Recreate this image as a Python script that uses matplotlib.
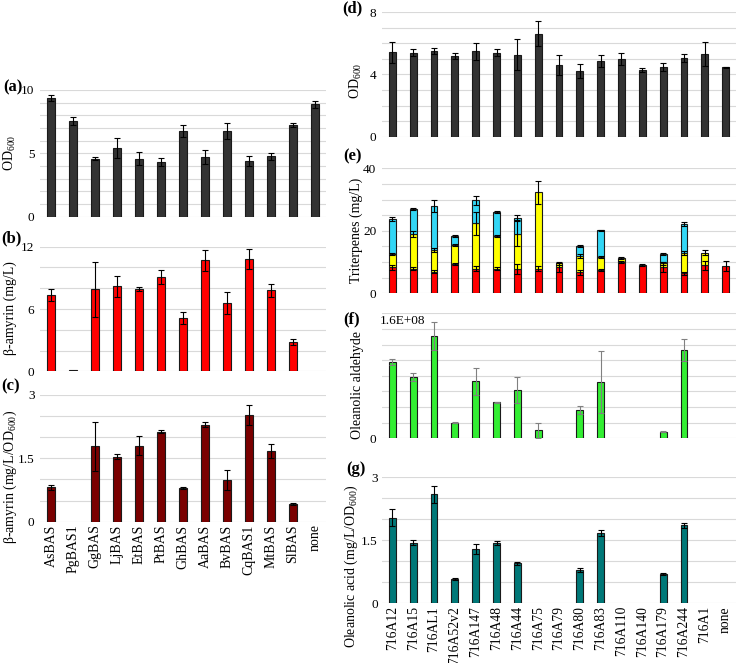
import numpy as np
import matplotlib
matplotlib.use("Agg")
import matplotlib.pyplot as plt
from matplotlib.ticker import MultipleLocator, FixedLocator, NullFormatter

plt.rcParams['font.family'] = ['Liberation Serif', 'DejaVu Serif']
plt.rcParams['mathtext.fontset'] = 'custom'
plt.rcParams['mathtext.rm'] = 'Liberation Serif'
plt.rcParams['mathtext.default'] = 'regular'

# ---------------- data ----------------
left_cats = ["AsBAS", "PgBAS1", "GgBAS", "LjBAS", "EtBAS", "PtBAS", "GhBAS",
             "AaBAS", "BvBAS", "CqBAS1", "MtBAS", "SlBAS", "none"]
od_a = [9.34, 7.53, 4.57, 5.40, 4.57, 4.32, 6.76, 4.73, 6.79, 4.38, 4.78, 7.24, 8.87]
od_a_err = [0.24, 0.31, 0.13, 0.78, 0.50, 0.30, 0.45, 0.54, 0.63, 0.40, 0.27, 0.18, 0.26]
bamy = [7.35, 0.10, 7.90, 8.18, 7.92, 9.05, 5.17, 10.70, 6.60, 10.78, 7.80, 2.79, 0]
bamy_err = [0.60, 0.0, 2.65, 1.00, 0.20, 0.67, 0.57, 1.00, 1.06, 0.96, 0.60, 0.29, 0]
bamy_od = [0.81, 0.0, 1.78, 1.54, 1.80, 2.13, 0.80, 2.30, 0.99, 2.53, 1.67, 0.42, 0]
bamy_od_err = [0.05, 0.0, 0.58, 0.06, 0.22, 0.03, 0.03, 0.07, 0.24, 0.23, 0.17, 0.02, 0]

right_cats = ["716A12", "716A15", "716AL1", "716A52v2", "716A147", "716A48", "716A44",
              "716A75", "716A79", "716A80", "716A83", "716A110", "716A140", "716A179",
              "716A244", "716A1", "none"]
od_d = [5.43, 5.41, 5.52, 5.21, 5.49, 5.41, 5.28, 6.61, 4.59, 4.23, 4.87, 4.98, 4.29,
        4.46, 5.04, 5.32, 4.48]
od_d_err = [0.69, 0.23, 0.17, 0.20, 0.56, 0.21, 0.99, 0.80, 0.64, 0.45, 0.36, 0.39, 0.10,
            0.26, 0.26, 0.75, 0.03]
tri_red = [8.3, 7.8, 6.9, 9.4, 7.8, 7.8, 7.8, 7.8, 8.3, 6.8, 7.5, 9.9, 9.0, 8.5, 6.4, 8.9, 8.7]
tri_red_err = [0.8, 0.5, 0.5, 0.3, 0.8, 0.5, 1.5, 0.8, 1.5, 0.8, 0.3, 0.3, 0.3, 1.6, 0.5, 1.3, 1.6]
tri_yellow = [4.3, 11.2, 7.0, 6.0, 14.6, 10.5, 11.2, 24.5, 1.3, 5.1, 4.0, 1.5, 0, 1.1, 6.4, 4.1, 0]
tri_yellow_err = [0.4, 1.0, 0.6, 0.3, 3.6, 0.3, 4.0, 3.7, 0.5, 0.6, 0.3, 0.3, 0, 0.5, 0.6, 0.8, 0]
tri_cyan = [11.2, 8.1, 14.0, 2.9, 7.3, 7.7, 5.2, 0, 0, 3.2, 8.6, 0, 0, 3.0, 9.4, 0, 0]
tri_cyan_err = [0.6, 0.3, 1.8, 0.2, 1.3, 0.2, 0.9, 0, 0, 0.3, 0.3, 0, 0, 0.4, 0.7, 0, 0]
ald = [9.8e7, 7.8e7, 1.31e8, 2.0e7, 7.3e7, 4.6e7, 6.2e7, 1.0e7, 0, 3.6e7, 7.2e7, 0, 0,
       8.5e6, 1.13e8, 0, 0]
ald_err = [4e6, 5e6, 1.8e7, 5e5, 1.7e7, 1e6, 1.7e7, 9e6, 0, 5e6, 4e7, 0, 0, 1e6, 1.4e7, 0, 0]
acid = [2.04, 1.44, 2.60, 0.58, 1.30, 1.44, 0.95, 0, 0, 0.79, 1.68, 0, 0, 0.70, 1.86, 0, 0]
acid_err = [0.20, 0.06, 0.20, 0.02, 0.12, 0.04, 0.03, 0, 0, 0.04, 0.07, 0, 0, 0.02, 0.06, 0, 0]

# ---------------- layout ----------------
W, H = 740, 663
fig = plt.figure(figsize=(W / 100, H / 100), dpi=100)


def add_ax(x0, x1, ytop, ybot):
    return fig.add_axes([x0 / W, 1 - ybot / H, (x1 - x0) / W, (ybot - ytop) / H])


GRID = "#d9d9d9"
BW = 0.33
TICK_FS = 9.5


def style(ax, n, ymax, major, major_lbl, minor, labels=None, fs=9.5, ypad=4):
    ax.set_xlim(-0.5, n - 0.5)
    ax.set_ylim(0, ymax)
    for s in ax.spines.values():
        s.set_visible(False)
    ax.yaxis.set_major_locator(FixedLocator(major))
    ax.set_yticklabels(major_lbl)
    ax.yaxis.set_minor_locator(MultipleLocator(minor))
    ax.yaxis.set_minor_formatter(NullFormatter())
    ax.grid(True, axis="y", which="both", color=GRID, linewidth=0.8)
    ax.set_axisbelow(True)
    ax.tick_params(axis="both", which="both", length=0, labelsize=TICK_FS, pad=ypad)
    if labels is None:
        ax.set_xticks([])
    else:
        ax.set_xticks(np.arange(n))
        ax.set_xticklabels(labels, rotation=90, fontsize=fs)
        ax.tick_params(axis="x", pad=2)


def bars(ax, vals, errs, color, bottom=None, ecolor="black"):
    x = np.arange(len(vals))
    vals = np.asarray(vals, float)
    errs = np.asarray(errs, float)
    b = np.zeros_like(vals) if bottom is None else np.asarray(bottom, float)
    mask = vals > 0
    ax.bar(x[mask], vals[mask], BW, bottom=b[mask], color=color,
           edgecolor="#1a1a1a", linewidth=0.8, zorder=2)
    em = mask & (errs > 0)
    ax.errorbar(x[em], (b + vals)[em], yerr=errs[em], fmt="none", ecolor=ecolor,
                elinewidth=0.8, capsize=2, capthick=0.8, zorder=3)


LX0, LX1 = 40, 326
RX0, RX1 = 382, 736

# (a)
ax = add_ax(LX0, LX1, 90, 216.7)
bars(ax, od_a, od_a_err, "#333333")
style(ax, len(left_cats), 10, [0, 5, 10], ["0", "5", "10"], 1)
# (b)
ax = add_ax(LX0, LX1, 246.7, 371.3)
bars(ax, bamy, bamy_err, "#ff0000")
style(ax, len(left_cats), 12, [0, 6, 12], ["0", "6", "12"], 2)
# (c)
ax = add_ax(LX0, LX1, 395, 521.6)
bars(ax, bamy_od, bamy_od_err, "#7a0000")
style(ax, len(left_cats), 3, [0, 1.5, 3], ["0", "1.5", "3"], 0.5, labels=left_cats, fs=10)
# (d)
ax = add_ax(RX0, RX1, 12.3, 136.7)
bars(ax, od_d, od_d_err, "#333333")
style(ax, len(right_cats), 8, [0, 4, 8], ["0", "4", "8"], 1)
# (e)
ax = add_ax(RX0, RX1, 168.3, 293.3)
r = np.asarray(tri_red)
y = np.asarray(tri_yellow)
bars(ax, tri_red, tri_red_err, "#ff0000")
bars(ax, tri_yellow, tri_yellow_err, "#ffff00", bottom=r)
bars(ax, tri_cyan, tri_cyan_err, "#33d6f5", bottom=r + y)
style(ax, len(right_cats), 40, [0, 20, 40], ["0", "20", "40"], 5)
# (f)
ax = add_ax(RX0, RX1, 313.3, 438.3)
bars(ax, ald, ald_err, "#33ee33", ecolor="#808080")
style(ax, len(right_cats), 1.6e8, [0], ["0"], 2e7)
# (g)
ax = add_ax(RX0, RX1, 477.3, 603.3)
bars(ax, acid, acid_err, "#007878")
style(ax, len(right_cats), 3, [0, 1.5, 3], ["0", "1.5", "3"], 0.5, labels=right_cats,
      fs=9.8, ypad=3)

fig.text(380 / W, 1 - 321 / H, "1.6E+08", fontsize=TICK_FS, ha="left", va="center")

# panel letters
for lab, px, py in [("(a)", 13, 87), ("(b)", 11, 238), ("(c)", 11, 386),
                    ("(d)", 352, 8), ("(e)", 353, 156), ("(f)", 352, 319), ("(g)", 356, 469)]:
    fig.text(px / W, 1 - py / H, lab, fontsize=12, fontweight="bold", ha="center", va="center")

# y labels
for lab, px, py in [("OD$_{600}$", 10, 153), ("β-amyrin (mg/L)", 10, 308),
                    ("β-amyrin (mg/L/OD$_{600}$)", 10, 477),
                    ("OD$_{600}$", 356, 81), ("Triterpenes (mg/L)", 356, 230),
                    ("Oleanolic aldehyde", 357, 385),
                    ("Oleanolic acid (mg/L/OD$_{600}$)", 351, 566)]:
    fig.text(px / W, 1 - py / H, lab, fontsize=10, rotation=90, ha="center", va="center")

fig.savefig("out.png", dpi=100)
